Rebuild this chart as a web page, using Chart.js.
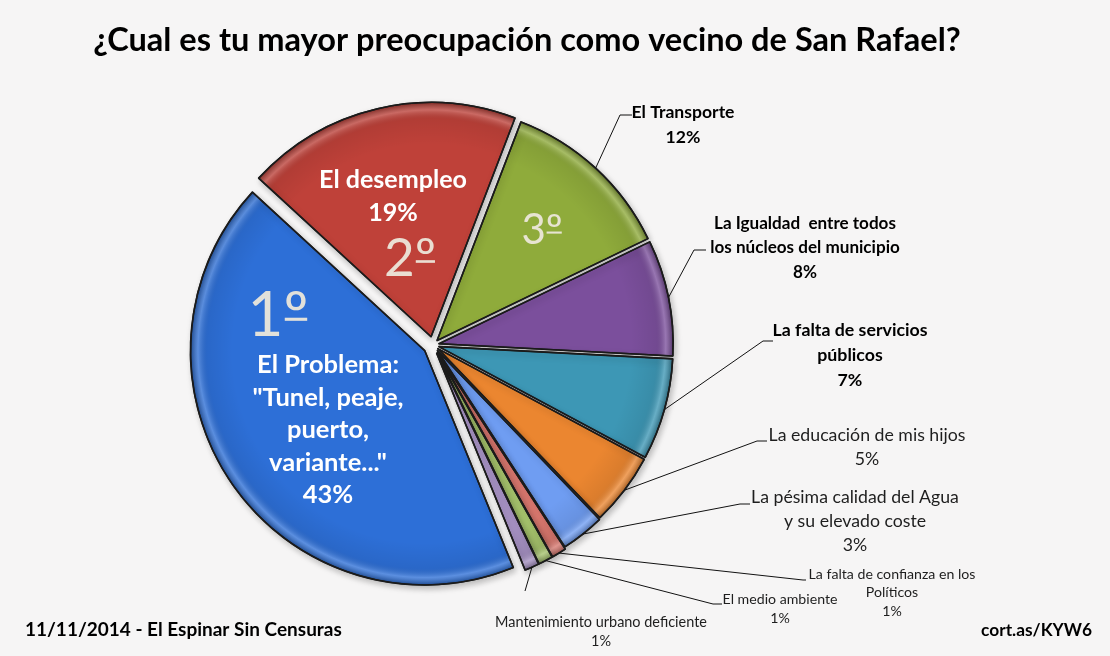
<!DOCTYPE html>
<html>
<head>
<meta charset="utf-8">
<script src="https://cdn.jsdelivr.net/npm/chart.js@4.4.0/dist/chart.umd.min.js"></script>
<style>
  html, body { margin: 0; padding: 0; background: #f6f5f5; }
  #wrap { position: relative; width: 1110px; height: 656px; }
</style>
</head>
<body>
<div id="wrap"><canvas id="myPieChart" width="1110" height="656"></canvas></div>
<script>
// datos de la encuesta
const categories = [
  'El Transporte',
  'La Igualdad entre todos los núcleos del municipio',
  'La falta de servicios públicos',
  'La educación de mis hijos',
  'La pésima calidad del Agua y su elevado coste',
  'La falta de confianza en los Políticos',
  'El medio ambiente',
  'Mantenimiento urbano deficiente',
  'El Problema: "Tunel, peaje, puerto, variante..."',
  'El desempleo'
];
const values = [12, 8, 7, 5, 3, 1, 1, 1, 43, 19];
const ranks = ['3', '', '', '', '', '', '', '', '1', '2'];

const titleText = '¿Cual es tu mayor preocupación como vecino de San Rafael?';
const footLeft = '11/11/2014 - El Espinar Sin Censuras';
const footRight = 'cort.as/KYW6';

// estilos
const sliceColors = ['#8fab3b', '#7b4f9c', '#3d97b5', '#eb8630', '#6f9df2',
                     '#da786f', '#a7c46d', '#a691c3', '#2d6fd7', '#bf4139'];
const sliceExplode = [6, 6, 6, 6, 7, 9, 9, 9, 10, 8.5];
const FONT = 'Lato, "Open Sans", sans-serif';

// etiquetas (texto partido en lineas + posicion)
const labelLayout = [
  { lines: ['El Transporte', '12%'], x: 683, y: 112, lh: 25, w: 103, bold: true,
    leader: [[620, 115], [632, 115]] },
  { lines: ['La Igualdad  entre todos', 'los núcleos del municipio', '8%'], x: 805, y: 223, lh: 24.5, w: 182, bold: true,
    leader: [[694, 250], [706, 250]] },
  { lines: ['La falta de servicios', 'públicos', '7%'], x: 850, y: 330, lh: 25, w: 155, bold: true,
    leader: [[763, 341], [773, 341]] },
  { lines: ['La educación de mis hijos', '5%'], x: 867, y: 435, lh: 24.5, w: 197, bold: false,
    leader: [[757, 441], [767, 441]] },
  { lines: ['La pésima calidad del Agua', 'y su elevado coste', '3%'], x: 855, y: 497, lh: 24, w: 208, bold: false,
    leader: [[740, 504], [750, 504]] },
  { lines: ['La falta de confianza en los', 'Políticos', '1%'], x: 892, y: 574, lh: 18.5, w: 167, bold: false,
    leader: [[803, 580], [806, 580]] },
  { lines: ['El medio ambiente', '1%'], x: 780, y: 599, lh: 19, w: 115, bold: false,
    leader: [[713, 604], [722, 604]] },
  { lines: ['Mantenimiento urbano deficiente', '1%'], x: 601, y: 622, lh: 19, w: 212, bold: false,
    leader: [[525, 591]] },
  { lines: ['El Problema:', '"Tunel, peaje,', 'puerto,', 'variante..."', '43%'], x: 328, y: 365, lh: 32.5, w: 142, bold: true,
    inside: true },
  { lines: ['El desempleo', '19%'], x: 393, y: 180, lh: 33, w: 148, bold: true, inside: true }
];
const rankLayout = [
  { x: 542, y: 229, size: 42 }, null, null, null, null, null, null, null,
  { x: 278, y: 314, size: 62 },
  { x: 410, y: 257, size: 53 }
];

function fitSize(ctx, text, weight, target) {
  ctx.font = weight + ' 20px ' + FONT;
  return 20 * target / ctx.measureText(text).width;
}

// separar las porciones (explosion)
const explode = {
  id: 'explode',
  afterDatasetUpdate(chart, args) {
    args.meta.data.forEach(function(arc, i) {
      const mid = (arc.startAngle + arc.endAngle) / 2;
      arc.x += Math.cos(mid) * sliceExplode[i];
      arc.y += Math.sin(mid) * sliceExplode[i];
    });
  },
  beforeDatasetsDraw(chart) {
    const c = chart.ctx;
    c.save();
    c.shadowColor = 'rgba(0,0,0,0.25)';
    c.shadowBlur = 6;
    c.shadowOffsetX = 2;
    c.shadowOffsetY = 3;
  },
  afterDatasetsDraw(chart) {
    chart.ctx.restore();
  }
};

// sombreado tipo bisel
const bevel = {
  id: 'bevel',
  afterDatasetsDraw(chart) {
    const ctx = chart.ctx;
    const meta = chart.getDatasetMeta(0);
    meta.data.forEach(function(arc) {
      const p = arc.getProps(['x', 'y', 'startAngle', 'endAngle', 'outerRadius']);
      const R = p.outerRadius;
      ctx.save();
      ctx.beginPath();
      ctx.moveTo(p.x, p.y);
      ctx.arc(p.x, p.y, R, p.startAngle, p.endAngle);
      ctx.closePath();
      ctx.clip();
      const g = ctx.createRadialGradient(p.x, p.y, 0, p.x, p.y, R);
      g.addColorStop(0, 'rgba(0,0,0,0)');
      g.addColorStop(0.82, 'rgba(0,0,0,0)');
      g.addColorStop(0.93, 'rgba(0,0,0,0.07)');
      g.addColorStop(0.968, 'rgba(255,255,255,0.22)');
      g.addColorStop(1, 'rgba(0,0,0,0.3)');
      ctx.fillStyle = g;
      ctx.fillRect(p.x - R, p.y - R, R * 2, R * 2);
      ctx.restore();
      ctx.save();
      ctx.beginPath();
      ctx.moveTo(p.x, p.y);
      ctx.arc(p.x, p.y, R, p.startAngle, p.endAngle);
      ctx.closePath();
      ctx.lineWidth = 1.6;
      ctx.lineJoin = 'round';
      ctx.strokeStyle = '#1b1b1b';
      ctx.stroke();
      ctx.restore();
    });
  }
};

// etiquetas y lineas guia
const sliceLabels = {
  id: 'sliceLabels',
  afterDraw(chart) {
    const ctx = chart.ctx;
    const meta = chart.getDatasetMeta(0);
    ctx.save();
    meta.data.forEach(function(arc, i) {
      const L = labelLayout[i];
      const p = arc.getProps(['x', 'y', 'startAngle', 'endAngle', 'outerRadius']);
      const mid = (p.startAngle + p.endAngle) / 2;
      const weight = L.bold ? 'bold' : 'normal';
      if (L.leader) {
        ctx.beginPath();
        ctx.moveTo(p.x + Math.cos(mid) * p.outerRadius, p.y + Math.sin(mid) * p.outerRadius);
        L.leader.forEach(function(pt) { ctx.lineTo(pt[0], pt[1]); });
        ctx.lineWidth = 1;
        ctx.strokeStyle = '#111';
        ctx.stroke();
      }
      const size = fitSize(ctx, L.lines[0], weight, L.w);
      ctx.font = weight + ' ' + size + 'px ' + FONT;
      ctx.textAlign = 'center';
      ctx.textBaseline = 'middle';
      ctx.fillStyle = L.inside ? '#ffffff' : (L.bold ? '#000' : '#1e1e1e');
      L.lines.forEach(function(line, k) {
        ctx.fillText(line, L.x, L.y + k * L.lh);
      });
      const R = rankLayout[i];
      if (R && ranks[i]) {
        // numero + "º" subrayado
        const txt = ranks[i] + 'º';
        ctx.font = 'normal ' + R.size + 'px ' + FONT;
        ctx.fillStyle = 'rgba(236,231,218,0.95)';
        const tw = ctx.measureText(txt).width;
        const ow = ctx.measureText('º').width;
        ctx.textAlign = 'left';
        ctx.textBaseline = 'alphabetic';
        const x0 = R.x - tw / 2;
        const base = R.y + R.size * 0.36;
        ctx.fillText(txt, x0, base);
        ctx.fillRect(x0 + tw - ow + R.size * 0.02, base - R.size * 0.3, ow - R.size * 0.04, Math.max(2, R.size * 0.05));
        ctx.textAlign = 'center';
        ctx.textBaseline = 'middle';
      }
    });
    ctx.restore();
  }
};

// titulo y pie de pagina
const pageText = {
  id: 'pageText',
  afterDraw(chart) {
    const ctx = chart.ctx;
    ctx.save();
    ctx.fillStyle = '#000';
    ctx.textBaseline = 'alphabetic';
    let s = fitSize(ctx, titleText, 'bold', 868);
    ctx.font = 'bold ' + s + 'px ' + FONT;
    ctx.textAlign = 'center';
    ctx.fillText(titleText, 527, 51);
    s = fitSize(ctx, footLeft, 'bold', 317);
    ctx.font = 'bold ' + s + 'px ' + FONT;
    ctx.textAlign = 'left';
    ctx.fillText(footLeft, 25, 636);
    s = fitSize(ctx, footRight, 'bold', 111);
    ctx.font = 'bold ' + s + 'px ' + FONT;
    ctx.textAlign = 'right';
    ctx.fillText(footRight, 1092, 636);
    ctx.restore();
  }
};

const ctx = document.getElementById('myPieChart');
const myPieChart = new Chart(ctx, {
  type: 'pie',
  data: {
    labels: categories,
    datasets: [{
      data: values,
      backgroundColor: sliceColors,
      borderColor: '#1b1b1b',
      borderWidth: 1.5,
      hoverBorderWidth: 1.5,
      hoverOffset: 0
    }]
  },
  options: {
    responsive: false,
    animation: false,
    events: [],
    rotation: 21,
    layout: { padding: { left: 198, top: 110, right: 442, bottom: 76 } },
    plugins: {
      legend: { display: false },
      title: { display: false },
      tooltip: { enabled: false }
    }
  },
  plugins: [explode, bevel, sliceLabels, pageText]
});
</script>
</body>
</html>
